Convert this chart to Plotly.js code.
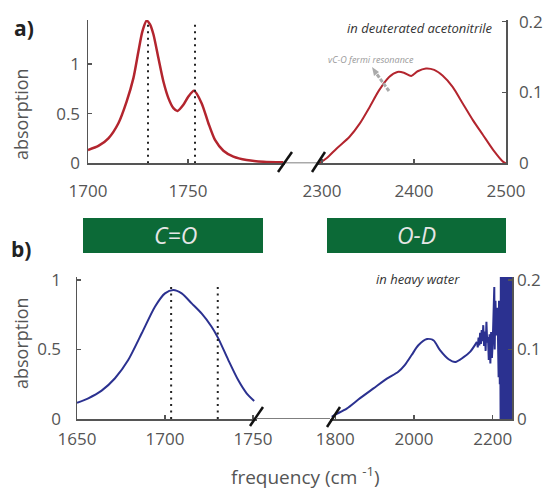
<!DOCTYPE html>
<html>
<head>
<meta charset="utf-8">
<script src="https://cdn.plot.ly/plotly-3.0.1.min.js"></script>
<style>html,body{margin:0;padding:0;background:#fff;}#chart{width:545px;height:489px;}</style>
</head>
<body>
<div id="chart"></div>
<script>
// ---- data ----
// a) deuterated acetonitrile, C=O region
const topCOx = [1700,1705.2,1710.2,1715.2,1719.3,1722.7,1725.2,1727.2,1729.3,1731,1732.7,1735.2,1737.7,1740.2,1742.7,1744.8,1747.7,1750.2,1753,1756.8,1760.2,1763.5,1767.7,1772.7,1779.3,1787.7,1797.7];
const topCOy = [0.134,0.175,0.252,0.404,0.622,0.858,1.127,1.33,1.437,1.40,1.30,1.06,0.824,0.657,0.556,0.528,0.589,0.673,0.730,0.606,0.404,0.235,0.127,0.067,0.033,0.016,0.01];
// a) O-D region
const topODx = [2297,2305,2316,2330,2341,2352,2362,2373,2382,2389,2397,2404,2413,2422,2431,2442,2453,2464,2475,2486,2497,2500];
const topODy = [0,0.007,0.021,0.0375,0.056,0.080,0.103,0.122,0.129,0.128,0.1234,0.130,0.134,0.132,0.124,0.108,0.0845,0.061,0.040,0.019,0.002,0];
// b) heavy water, C=O region
const botCOx = [1650,1656.4,1664,1671.6,1679.1,1686.8,1694.3,1700,1704.7,1709.5,1715.2,1720.8,1726.5,1730.3,1736,1741.6,1746.4,1750.7];
const botCOy = [0.117,0.149,0.204,0.293,0.424,0.617,0.808,0.904,0.928,0.904,0.832,0.760,0.664,0.58,0.424,0.28,0.185,0.13];
// b) O-D region (smooth part)
const botODx = [1791,1799,1829,1863,1897,1931,1960,1977,1994,2011,2033,2050,2066,2088,2105,2126,2143,2160];
const botODy = [0.003,0.006,0.015,0.030,0.044,0.058,0.068,0.078,0.092,0.106,0.115,0.113,0.099,0.086,0.082,0.089,0.097,0.111];
// b) O-D region (noisy tail, values beyond the axis are clipped)
const botNoiseX = [2160,2162,2164,2166,2168,2170,2172,2174,2176,2178,2180,2182,2184,2186,2188,2190,2192,2194,2196,2198,2200,2202,2204,2205,2207,2209,2211,2213,2215,2216,2218,2219,2220,2221,2222,2223,2224,2225,2226,2227,2228,2229,2230,2231,2232,2233,2234,2235,2236,2237,2238,2239,2240,2241,2242,2243,2244,2245,2246,2247,2248,2249];
const botNoiseY = [0.111,0.103,0.117,0.106,0.124,0.108,0.128,0.112,0.135,0.105,0.126,0.098,0.140,0.110,0.118,0.085,0.122,0.080,0.125,0.088,0.110,0.150,0.190,0.100,0.170,0.120,0.160,0.130,0.060,0.170,0.050,0.140,0.000,0.350,-0.20,0.40,-0.30,0.50,-0.20,0.45,-0.25,0.40,-0.30,0.50,-0.20,0.45,-0.30,0.40,-0.25,0.50,-0.20,0.40,-0.30,0.45,-0.20,0.50,-0.25,0.40,-0.30,0.45,-0.20,0.40];
// dotted peak markers
const topPeaks = [1730, 1753.5];
const topPeakTop = 1.42;
const botPeaks = [1703.5, 1730];
const botPeakTop = 0.98;
// tick values / labels
const topLeftXTicks = [1700, 1750];
const topRightXTicks = [2300, 2400, 2500];
const topLeftYTicks = [0, 0.5, 1];
const topRightYTicks = [0, 0.1, 0.2];
const botLeftXTicks = [1650, 1700, 1750];
const botRightXTicks = [1800, 2000, 2200];
const botLeftYTicks = [0, 0.5, 1];
const botRightYTicks = [0, 0.1, 0.2];

// ---- helpers ----
const W = 545, H = 489;
const px = v => v / W;
const py = v => 1 - v / H;
const RED = '#b3252e', BLUE = '#2b3190', AX = '#555555';
const tickFont = {family: 'Open Sans', size: 17, color: '#555555'};

function dotted(xs, top, xa, ya) {
  return xs.map(v => ({x: [v, v], y: [0, top], xaxis: xa, yaxis: ya, mode: 'lines',
    line: {color: '#222', width: 2, dash: '2px,4.5px'}}));
}

const traces = [
  {x: topCOx, y: topCOy, xaxis: 'x', yaxis: 'y', mode: 'lines', line: {color: RED, width: 2.5, shape: 'spline', smoothing: 0.7}},
  {x: topODx, y: topODy, xaxis: 'x2', yaxis: 'y2', mode: 'lines', line: {color: RED, width: 2, shape: 'spline', smoothing: 0.7}},
  {x: botCOx, y: botCOy, xaxis: 'x3', yaxis: 'y3', mode: 'lines', line: {color: BLUE, width: 2, shape: 'spline', smoothing: 0.7}},
  {x: botODx, y: botODy, xaxis: 'x4', yaxis: 'y4', mode: 'lines', line: {color: BLUE, width: 2, shape: 'spline', smoothing: 0.7}},
  {x: botNoiseX, y: botNoiseY, xaxis: 'x4', yaxis: 'y4', mode: 'lines', line: {color: BLUE, width: 2}},
  ...dotted(topPeaks, topPeakTop, 'x', 'y'),
  ...dotted(botPeaks, botPeakTop, 'x3', 'y3')
].map(t => Object.assign({showlegend: false, hoverinfo: 'skip'}, t));

function xax(dom, rng, ticks, anchor, standoff) {
  return {domain: dom, range: rng, anchor: anchor, tickvals: ticks, ticktext: ticks.map(String),
    showline: true, linecolor: AX, linewidth: 1.5, ticks: 'inside', ticklen: 4, tickcolor: AX, tickwidth: 1.5,
    showgrid: false, zeroline: false, tickfont: tickFont, automargin: false, fixedrange: true,
    ticklabelstandoff: standoff};
}
function yax(dom, rng, ticks, anchor, side, standoff) {
  return {domain: dom, range: rng, anchor: anchor, side: side, tickvals: ticks, ticktext: ticks.map(String),
    showline: true, linecolor: AX, linewidth: 1.5, ticks: 'inside', ticklen: 4, tickcolor: AX, tickwidth: 1.5,
    showgrid: false, zeroline: false, tickfont: tickFont, automargin: false, fixedrange: true,
    ticklabelstandoff: standoff};
}

const topDom = [py(163.3), py(20)];
const botDom = [py(419), py(277)];

function ann(text, x, y, font, extra) {
  return Object.assign({text: text, x: px(x), y: py(y), xref: 'paper', yref: 'paper', showarrow: false,
    xanchor: 'center', yanchor: 'middle', font: font}, extra || {});
}

const layout = {
  width: W, height: H,
  margin: {l: 0, r: 0, t: 0, b: 0, pad: 0},
  paper_bgcolor: '#fff', plot_bgcolor: 'rgba(0,0,0,0)',
  showlegend: false,
  xaxis:  xax([px(88), px(285)], [1700, 1798.5], topLeftXTicks, 'y', 12),
  yaxis:  yax(topDom, [0, 1.444], topLeftYTicks, 'x', 'left', 3),
  xaxis2: xax([px(318), px(506)], [2295.7, 2500], topRightXTicks, 'y2', 12),
  yaxis2: yax(topDom, [0, 0.2024], topRightYTicks, 'x2', 'right', 8),
  xaxis3: xax([px(77), px(257)], [1650, 1752.3], botLeftXTicks, 'y3', 4),
  yaxis3: yax(botDom, [0, 1.0216], botLeftYTicks, 'x3', 'left', 11),
  xaxis4: xax([px(330), px(512)], [1786.5, 2249], botRightXTicks, 'y4', 4),
  yaxis4: yax(botDom, [0, 0.2043], botRightYTicks, 'x4', 'right', 0),
  shapes: [
    // axis line between broken segments
    {type: 'line', xref: 'paper', yref: 'y', x0: px(285), x1: px(318), y0: 0, y1: 0, line: {color: AX, width: 1.5}},
    {type: 'line', xref: 'paper', yref: 'y3', x0: px(257), x1: px(330), y0: 0, y1: 0, line: {color: AX, width: 1.5}},
    // break slashes
    {type: 'line', xref: 'paper', yref: 'paper', x0: px(278), y0: py(172), x1: px(292), y1: py(152), line: {color: '#111', width: 2.5}},
    {type: 'line', xref: 'paper', yref: 'paper', x0: px(312), y0: py(172), x1: px(325), y1: py(152), line: {color: '#111', width: 2.5}},
    {type: 'line', xref: 'paper', yref: 'paper', x0: px(250), y0: py(426), x1: px(263), y1: py(407), line: {color: '#111', width: 2.5}},
    {type: 'line', xref: 'paper', yref: 'paper', x0: px(327), y0: py(427), x1: px(340), y1: py(407), line: {color: '#111', width: 2.5}},
    // green labels
    {type: 'rect', xref: 'paper', yref: 'paper', x0: px(83), x1: px(263), y0: py(253), y1: py(218), fillcolor: '#0c6a37', line: {width: 0}},
    {type: 'rect', xref: 'paper', yref: 'paper', x0: px(327), x1: px(506), y0: py(253), y1: py(218), fillcolor: '#0c6a37', line: {width: 0}},
    // fermi resonance arrow (shaft + head)
    {type: 'line', xref: 'paper', yref: 'paper', x0: px(389), y0: py(91), x1: px(376), y1: py(73), line: {color: '#aaaaaa', width: 3, dash: '4px,1.5px'}},
    {type: 'path', xref: 'paper', yref: 'paper', path: 'M ' + px(372) + ' ' + py(67) + ' L ' + px(374) + ' ' + py(76) + ' L ' + px(379) + ' ' + py(72) + ' Z', fillcolor: '#aaaaaa', line: {width: 0}}
  ],
  annotations: [
    ann('<b>a)</b>', 24, 28, {family: 'Open Sans', size: 21, color: '#222'}),
    ann('<b>b)</b>', 21, 249, {family: 'Open Sans', size: 21, color: '#222'}),
    ann('absorption', 21, 114, {family: 'Open Sans', size: 18, color: '#555'}, {textangle: -90}),
    ann('absorption', 21, 343, {family: 'Open Sans', size: 18, color: '#555'}, {textangle: -90}),
    ann('frequency (cm <sup>-1</sup>)', 305, 476, {family: 'Open Sans', size: 19, color: '#555'}),
    ann('<i>C=O</i>', 175, 235, {family: 'Open Sans', size: 23, color: '#e6e6e6'}),
    ann('<i>O-D</i>', 416.5, 235, {family: 'Open Sans', size: 23, color: '#e6e6e6'}),
    ann('<i>in deuterated acetonitrile</i>', 419.5, 28, {family: 'Open Sans', size: 13, color: '#333'}),
    ann('<i>vC-O fermi resonance</i>', 371, 59, {family: 'Open Sans', size: 9, color: '#999'}),
    ann('<i>in heavy water</i>', 418, 279, {family: 'Open Sans', size: 13, color: '#333'})
  ]
};

Plotly.newPlot('chart', traces, layout, {staticPlot: true, displayModeBar: false});
</script>
</body>
</html>
